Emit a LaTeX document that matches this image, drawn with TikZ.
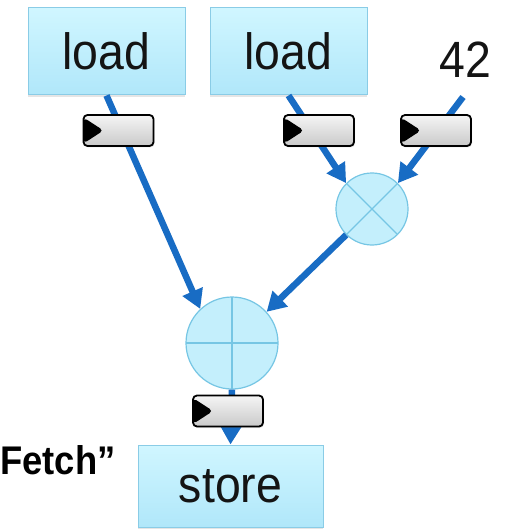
\documentclass[tikz,border=0pt]{standalone}
\usepackage{fontspec}
\setmainfont{Liberation Sans}
\newfontfamily\labfont[FakeStretch=0.91]{Liberation Sans}
\usetikzlibrary{arrows.meta,shadows}

\definecolor{boxtop}{RGB}{208,246,255}
\definecolor{boxbot}{RGB}{176,231,250}
\definecolor{boxedge}{RGB}{138,204,230}
\definecolor{opfill}{RGB}{196,239,252}
\definecolor{opedge}{RGB}{118,198,228}
\definecolor{wire}{RGB}{24,108,196}

\tikzset{
  opbox/.style={rectangle, minimum width=157pt, minimum height=87pt,
    top color=boxtop, bottom color=boxbot, draw=boxedge, line width=1pt,
    drop shadow={shadow xshift=0pt, shadow yshift=-2pt, opacity=0.2},
    font=\labfont\fontsize{51}{51}\selectfont, text=black!92, inner sep=0pt},
  oplabel/.style={font=\labfont\fontsize{51}{51}\selectfont, text=black!92, inner sep=0pt},
  opcircle/.style={circle, fill=opfill, draw=opedge, line width=1.2pt, inner sep=0pt},
  mulop/.style={opcircle, minimum size=72pt,
    path picture={\draw[opedge, line width=1.2pt]
      (path picture bounding box.north west) -- (path picture bounding box.south east)
      (path picture bounding box.north east) -- (path picture bounding box.south west);}},
  addop/.style={opcircle, minimum size=92pt,
    path picture={\draw[opedge, line width=1.2pt]
      (path picture bounding box.north) -- (path picture bounding box.south)
      (path picture bounding box.west) -- (path picture bounding box.east);}},
  latch/.style={rectangle, rounded corners=4pt, minimum width=70pt, minimum height=31pt,
    top color=gray!8, bottom color=gray!42, draw=black, line width=1.8pt, inner sep=0pt,
    drop shadow={shadow xshift=1pt, shadow yshift=-1.5pt, opacity=0.2},
    path picture={\fill[black]
      ([yshift=-2.5pt]path picture bounding box.north west) --
      ([yshift=2.5pt]path picture bounding box.south west) --
      ([xshift=20pt]path picture bounding box.west) -- cycle;}},
  arr/.style={draw=wire, line width=6.5pt, -{Triangle[length=19pt,width=21pt]}},
}

\begin{document}
\begin{tikzpicture}[x=1pt, y=-1pt]
  \fill[white] (0,0) rectangle (511,529);
  \useasboundingbox (0,0) rectangle (511,529);

  % operations
  \node[opbox] (load1) at (106.5,51.5) {load};
  \node[opbox] (load2) at (288.5,51.5) {load};
  \node[oplabel] (c42) at (465,60) {42};
  \coordinate (c42out) at (463,97);
  \node[mulop] (mul) at (372,209) {};
  \node[addop] (add) at (232,343) {};
  \node[opbox, minimum width=185pt, minimum height=82pt] (store) at (230.5,486) {store};

  \node[font=\bfseries\labfont\fontsize{40}{40}\selectfont, anchor=base west, inner sep=0pt]
    (fetch) at (0,474) {Fetch”};

  % data flow
  \draw[arr] (load1.south) -- (add.133);
  \draw[arr] (load2.south) -- (mul.135);
  \draw[arr] (c42out) -- (mul.45);
  \draw[arr] (mul.225) -- (add.42);
  \draw[arr] (add.south) -- (store.north);

  % pipeline latches on the wires
  \node[latch] (l1) at (118.5,130.5) {};
  \node[latch] (l2) at (319,130.5) {};
  \node[latch] (l3) at (436,130.5) {};
  \node[latch] (l4) at (228,411) {};
\end{tikzpicture}
\end{document}
